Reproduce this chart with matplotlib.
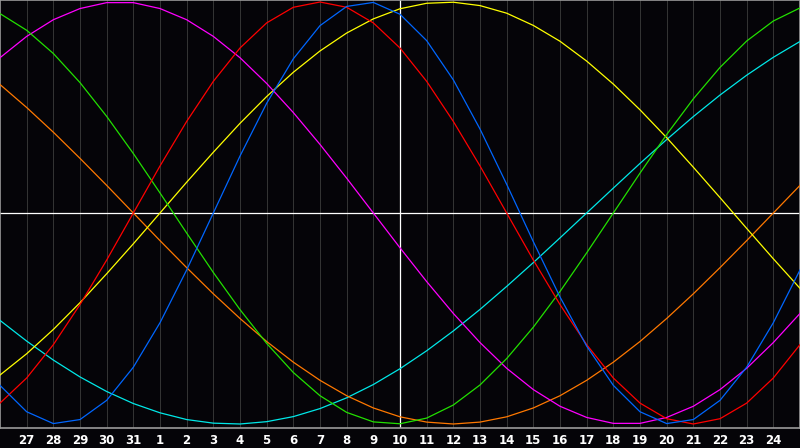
import matplotlib
matplotlib.use("Agg")
import matplotlib.pyplot as plt
import numpy as np

# Days shown along the x axis (first and last sit on the frame edges, unlabeled)
days = [26, 27, 28, 29, 30, 31, 1, 2, 3, 4, 5, 6, 7, 8, 9, 10, 11, 12, 13, 14,
        15, 16, 17, 18, 19, 20, 21, 22, 23, 24, 25]
today = 10

# Curve values per day (-1..1)
red = [-0.901, -0.782, -0.624, -0.434, -0.223, 0.0, 0.223, 0.434, 0.624, 0.782, 0.901,
       0.975, 1.0, 0.975, 0.901, 0.782, 0.624, 0.434, 0.223, 0.0, -0.223, -0.434,
       -0.624, -0.782, -0.901, -0.975, -1.0, -0.975, -0.901, -0.782, -0.624]
blue = [-0.817, -0.942, -0.998, -0.979, -0.888, -0.731, -0.520, -0.270, 0.0, 0.270, 0.520,
        0.731, 0.888, 0.979, 0.998, 0.942, 0.817, 0.631, 0.398, 0.136, -0.136, -0.398,
        -0.631, -0.817, -0.942, -0.998, -0.979, -0.888, -0.731, -0.520, -0.270]
green = [0.945, 0.866, 0.756, 0.618, 0.458, 0.282, 0.095, -0.095, -0.282, -0.458, -0.618,
         -0.756, -0.866, -0.945, -0.990, -0.999, -0.972, -0.910, -0.815, -0.690, -0.541,
         -0.372, -0.189, 0.0, 0.189, 0.372, 0.541, 0.690, 0.815, 0.910, 0.972]
yellow = [-0.768, -0.667, -0.552, -0.425, -0.288, -0.146, 0.0, 0.146, 0.288, 0.425, 0.552,
          0.667, 0.768, 0.853, 0.920, 0.968, 0.994, 0.999, 0.983, 0.947, 0.889, 0.814,
          0.720, 0.611, 0.489, 0.357, 0.217, 0.073, -0.073, -0.217, -0.357]
magenta = [0.736, 0.837, 0.916, 0.969, 0.997, 0.997, 0.969, 0.916, 0.837, 0.736, 0.614,
           0.476, 0.325, 0.165, 0.0, -0.165, -0.325, -0.476, -0.614, -0.736, -0.837,
           -0.916, -0.969, -0.997, -0.997, -0.969, -0.916, -0.837, -0.736, -0.614, -0.476]
cyan = [-0.509, -0.607, -0.697, -0.777, -0.846, -0.903, -0.947, -0.979, -0.996, -1.0,
        -0.989, -0.965, -0.927, -0.876, -0.813, -0.738, -0.653, -0.559, -0.457, -0.348,
        -0.235, -0.118, 0.0, 0.118, 0.235, 0.348, 0.457, 0.559, 0.653, 0.738, 0.813]
orange = [0.609, 0.5, 0.383, 0.259, 0.131, 0.0, -0.131, -0.259, -0.383, -0.5, -0.609,
          -0.707, -0.793, -0.866, -0.924, -0.966, -0.991, -1.0, -0.991, -0.966, -0.924,
          -0.866, -0.793, -0.707, -0.609, -0.5, -0.383, -0.259, -0.131, 0.0, 0.131]

series = [
    (cyan, "#00e8e8"),
    (orange, "#ff7800"),
    (yellow, "#ffff00"),
    (magenta, "#ff00ff"),
    (green, "#22e000"),
    (red, "#ff0000"),
    (blue, "#0066ff"),
]

BG = "#050408"
fig = plt.figure(figsize=(8.0, 4.48), dpi=100, facecolor=BG)
ax = fig.add_axes([0.0, 20 / 448, 1.0, 428 / 448])
ax.set_facecolor(BG)

x = np.arange(len(days)) - 1
ax.set_xlim(x[0], x[-1])
ax.set_ylim(-1.019, 1.0095)

lab_idx = list(range(1, len(days) - 1))
ax.set_xticks(x[lab_idx])
ax.set_xticklabels([str(days[i]) for i in lab_idx], color="white",
                   fontweight="bold", fontsize=8.5, family="DejaVu Sans")
ax.tick_params(axis="x", length=0, pad=4)
ax.set_yticks([])
ax.xaxis.grid(True, color="#333333", linewidth=0.75)
ax.set_axisbelow(True)

ax.axhline(0, color="white", linewidth=0.9, zorder=2)
ax.axvline(x[days.index(today)], color="white", linewidth=0.9, zorder=2)

for vals, col in series:
    ax.plot(x, vals, color=col, linewidth=0.9, zorder=3, antialiased=True)

for sp in ax.spines.values():
    sp.set_color("#9a9a9a")
    sp.set_linewidth(1.2)

fig.savefig("out.png", dpi=100, facecolor=BG)
